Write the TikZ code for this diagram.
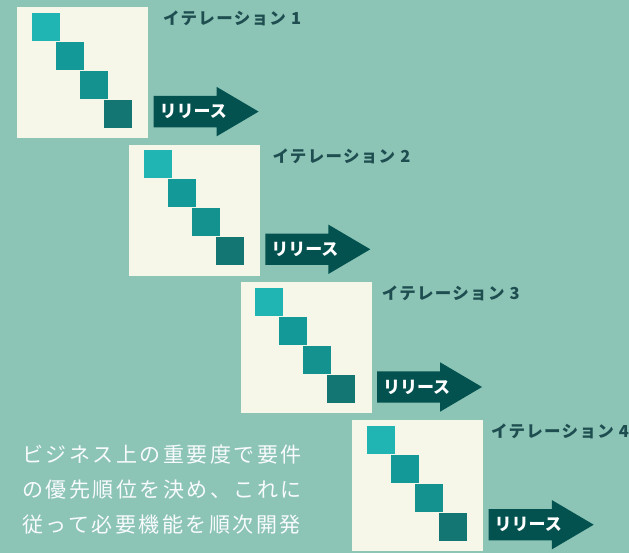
\documentclass[tikz,border=0pt]{standalone}
\usepackage{fontspec}
\setmainfont{Noto Sans CJK JP}
\newfontfamily\notefont[LetterSpace=12]{Noto Sans CJK JP}
\newfontfamily\iterfont[LetterSpace=8]{Noto Sans CJK JP}
\usetikzlibrary{shapes.arrows,positioning}
\definecolor{bg}{HTML}{8CC4B6}
\definecolor{cream}{HTML}{F6F6E9}
\definecolor{sqA}{HTML}{20B4B2}
\definecolor{sqB}{HTML}{139A98}
\definecolor{sqC}{HTML}{149290}
\definecolor{sqD}{HTML}{137672}
\definecolor{arrowc}{HTML}{03524F}
\definecolor{titlec}{HTML}{1F4E50}

\begin{document}
\begin{tikzpicture}[x=1pt,y=-1pt,
   panel/.style={fill=cream,minimum width=131pt,minimum height=131pt,inner sep=0,anchor=north west},
   sq/.style={minimum size=28pt,inner sep=0},
   release/.style={single arrow,fill=arrowc,minimum height=105pt,minimum width=49pt,
     text height=15.5pt,text depth=15.5pt,single arrow head extend=9pt,single arrow tip angle=61,
     inner sep=0,anchor=tail},
   reltext/.style={text=white,font=\bfseries\fontsize{17}{17}\selectfont,inner sep=0,anchor=west},
   iter/.style={text=titlec,font=\iterfont\bfseries\fontsize{16.5}{17}\selectfont,inner sep=0,anchor=west},
   note/.style={text=white!94!bg,font=\notefont\fontsize{21}{35}\selectfont,align=left,inner sep=0,anchor=north west}]
   \useasboundingbox (0,0) rectangle (629,553);
   \fill[bg] (0,0) rectangle (629,553);
   \foreach \i in {1,...,4}{
     \node[panel] (panel_\i) at ({17+111.7*(\i-1)},{6.7+137.7*(\i-1)}) {};
     \foreach \c [count=\j from 0] in {sqA,sqB,sqC,sqD}
       \node[sq,fill=\c] (sq_\i_\j) at ([xshift=(29+24*\j)*1pt,yshift=(-20-29*\j)*1pt]panel_\i.north west) {};
     \node[iter] (iter_\i) at ({163+109.3*(\i-1)},{18.4+137.6*(\i-1)}) {イテレーション \i};
     \node[release] (rel_\i) at ([xshift=5pt,yshift=26.5pt]panel_\i.south east) {};
     \node[reltext,right=6pt of rel_\i.tail] (reltext_\i) {リリース};
   }
   \node[note] (note) at (22,445) {ビジネス上の重要度で要件\\の優先順位を決め、これに\\従って必要機能を順次開発};
\end{tikzpicture}
\end{document}
